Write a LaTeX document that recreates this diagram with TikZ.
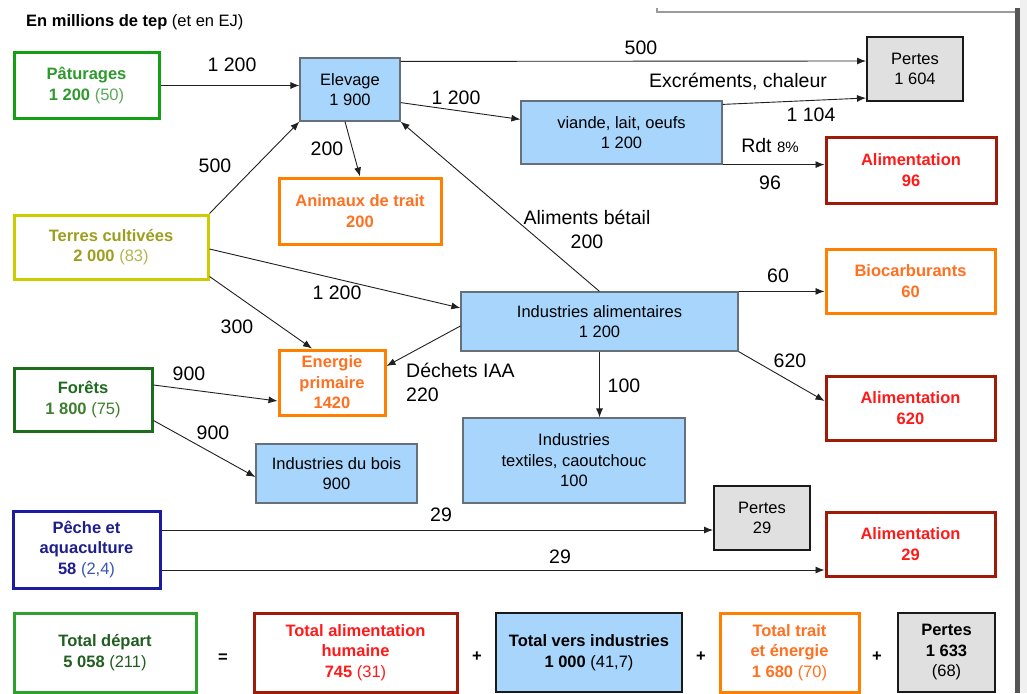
\documentclass[tikz,border=0pt]{standalone}
\usepackage{fontspec}
\setmainfont{Liberation Sans}
\usetikzlibrary{arrows.meta}

\definecolor{cblue}{HTML}{A8D5FB}
\definecolor{cblueb}{HTML}{66707A}
\definecolor{cgray}{HTML}{E0E0E0}
\definecolor{cgrayb}{HTML}{1A1A1A}
\definecolor{cgreen}{HTML}{14A014}
\definecolor{cgreent}{HTML}{2E9A2E}
\definecolor{cgreenp}{HTML}{5AAA5A}
\definecolor{cforest}{HTML}{1C6E1C}
\definecolor{cforestt}{HTML}{1E6A1E}
\definecolor{cforestp}{HTML}{3E7E2E}
\definecolor{ctot}{HTML}{2DA02D}
\definecolor{ctott}{HTML}{215E21}
\definecolor{cterre}{HTML}{CCCC00}
\definecolor{cterret}{HTML}{9E9E1E}
\definecolor{cterrep}{HTML}{B5B550}
\definecolor{corange}{HTML}{FF8000}
\definecolor{coranget}{HTML}{FF7020}
\definecolor{cdred}{HTML}{A01A0A}
\definecolor{credt}{HTML}{FF1A1A}
\definecolor{cnavy}{HTML}{1C1CA0}
\definecolor{cnavyt}{HTML}{1E1E8C}
\definecolor{cnavyp}{HTML}{3A55B5}
\definecolor{cline}{HTML}{202020}
\definecolor{cbar}{HTML}{555555}
\definecolor{cframe}{HTML}{9A9A9A}
\definecolor{cstrip}{HTML}{F0F0F0}

\newcommand\boxfont{\fontsize{16.5}{20.5}\selectfont}
\newcommand\lblfont{\fontsize{19.5}{24}\selectfont}
\newcommand\smallfnt{\fontsize{15}{18}\selectfont}

\newcommand\mybox[7]{%
  \pgfmathsetmacro\bw{#4-#2}\pgfmathsetmacro\bh{#5-#3}%
  \node[#6, minimum width=\bw pt, minimum height=\bh pt] (#1) at ({(#2+#4)/2},{(#3+#5)/2}) {#7};}

\tikzset{
  box/.style={rectangle, inner sep=0pt, align=center, font=\boxfont},
  bluebox/.style={box, fill=cblue, draw=cblueb, line width=1.2pt},
  graybox/.style={box, fill=cgray, draw=cgrayb, line width=2pt},
  greenbox/.style={box, fill=white, draw=cgreen, line width=3pt, text=cgreent, font=\boxfont\bfseries},
  forestbox/.style={box, fill=white, draw=cforest, line width=3pt, text=cforestt, font=\boxfont\bfseries},
  totbox/.style={box, fill=white, draw=ctot, line width=3pt, text=ctott, font=\boxfont\bfseries},
  terrebox/.style={box, fill=white, draw=cterre, line width=3pt, text=cterret, font=\boxfont\bfseries},
  orangebox/.style={box, fill=white, draw=corange, line width=3pt, text=coranget, font=\boxfont\bfseries},
  redbox/.style={box, fill=white, draw=cdred, line width=3pt, text=credt, font=\boxfont\bfseries},
  navybox/.style={box, fill=white, draw=cnavy, line width=3pt, text=cnavyt, font=\boxfont\bfseries},
  flow/.style={draw=cline, line width=0.9pt, -{Latex[length=9pt,width=7pt]}},
  lbl/.style={font=\lblfont, inner sep=0pt, text=black},
  opsign/.style={font=\boxfont\bfseries, inner sep=0pt, text=black},
}

\begin{document}
\begin{tikzpicture}[x=1pt,y=-1pt]
\useasboundingbox (0,0) rectangle (1027,693);
\fill[white] (0,0) rectangle (1027,693);
\fill[cstrip] (1020,0) rectangle (1027,693);
\draw[cframe, line width=1.5pt] (657,8) -- (657,12) -- (1016,12);
\fill[cbar] (1015,8) rectangle (1020,693);

% title
\node[anchor=base west, font=\boxfont, inner sep=0pt] (title) at (26,27) {\bfseries En millions de tep \mdseries(et en EJ)};

% boxes
\mybox{past}{14}{53}{159}{118}{greenbox}{Pâturages\\1 200 {\mdseries\color{cgreenp}(50)}}
\mybox{elev}{300}{58}{400}{121}{bluebox}{Elevage\\1 900}
\mybox{pertesA}{867}{37}{963}{101}{graybox}{Pertes\\1 604}
\mybox{viande}{521}{101}{722}{164}{bluebox}{viande, lait, oeufs\\1 200}
\mybox{alimA}{826}{137}{996}{203}{redbox}{Alimentation\\96}
\mybox{trait}{279}{178}{441}{244}{orangebox}{Animaux de trait\\200}
\mybox{terres}{14}{215}{208}{279}{terrebox}{Terres cultivées\\2 000 {\mdseries\color{cterrep}(83)}}
\mybox{ia}{461}{292}{738}{351}{bluebox}{Industries alimentaires\\1 200}
\mybox{bio}{826}{249}{995}{313}{orangebox}{Biocarburants\\60}
\mybox{alimB}{826}{376}{995}{440}{redbox}{Alimentation\\620}
\mybox{energie}{279}{350}{385}{415}{orangebox}{Energie\\primaire\\1420}
\mybox{forets}{14}{368}{152}{431}{forestbox}{Forêts\\{\color{cforestp}1 800 {\mdseries(75)}}}
\mybox{bois}{256}{444}{417}{503}{bluebox}{Industries du bois\\900}
\mybox{textile}{463}{418}{685}{503}{bluebox}{Industries\\textiles, caoutchouc\\100}
\mybox{pertesB}{714}{486}{810}{550}{graybox}{Pertes\\29}
\mybox{alimC}{826}{512}{995}{576}{redbox}{Alimentation\\29}
\mybox{peche}{13}{511}{160}{588}{navybox}{Pêche et\\aquaculture\\58 {\mdseries\color{cnavyp}(2,4)}}

% totals row
\mybox{tdep}{14}{613}{196}{692}{totbox}{Total départ\\5 058 {\mdseries(211)}}
\mybox{talim}{254}{613}{457}{692}{redbox}{Total alimentation\\humaine\\745 {\mdseries(31)}}
\mybox{tind}{496}{613}{682}{692}{bluebox, draw=cgrayb, line width=1.5pt, font=\boxfont\bfseries}{Total vers industries\\1 000 {\mdseries(41,7)}}
\mybox{tener}{720}{613}{859}{692}{orangebox}{Total trait\\et énergie\\1 680 {\mdseries(70)}}
\mybox{tpert}{898}{613}{995}{692}{graybox, font=\boxfont\bfseries}{Pertes\\1 633\\{\mdseries(68)}}
\node[opsign] (eq) at (223,658) {=};
\node[opsign] (plus1) at (477,657) {+};
\node[opsign] (plus2) at (701,657) {+};
\node[opsign] (plus3) at (877,657) {+};

% connectors
\draw[flow] (past.east) -- (past.east -| elev.west);
\draw[flow] ([yshift=-4pt]elev.north east) -- ([yshift=-25pt]pertesA.north west);
\draw[flow] ([yshift=19pt]elev.south east) -- ([yshift=-19pt]viande.north west);
\draw[flow] ([yshift=-4pt]viande.north east) -- ([yshift=4pt]pertesA.south west);
\draw[flow] (viande.south east) -- (viande.south east -| alimA.west);
\draw[flow] ([xshift=-5pt]elev.south) -- (trait.north);
\draw[flow] (terres.north east) -- (elev.south west);
\draw[flow] (ia.north) -- (elev.south east);
\draw[flow] ([yshift=-2pt]terres.east) -- ([yshift=13.5pt]ia.west);
\draw[flow] ([yshift=4pt]terres.south east) -- ([xshift=-20pt]energie.north);
\draw[flow] ([yshift=-4.5pt]ia.west) -- ([yshift=16.5pt]energie.east);
\draw[flow] ([yshift=14.5pt]forets.east) -- ([yshift=-18.5pt]energie.west);
\draw[flow] ([yshift=12pt]forets.south east) -- ([yshift=-3.5pt]bois.west);
\draw[flow] (ia.north east) -- (ia.north east -| bio.west);
\draw[flow] (ia.south east) -- ([yshift=7pt]alimB.west);
\draw[flow] (ia.south) -- (ia.south |- textile.north);
\draw[flow] ([yshift=19.5pt]peche.east) -- ([yshift=19.5pt]peche.east -| pertesB.west);
\draw[flow] ([yshift=-20.5pt]peche.east) -- ([yshift=-20.5pt]peche.east -| alimC.west);

% labels
\node[lbl] (l1) at (232,65) {1 200};
\node[lbl] (l2) at (641,48) {500};
\node[lbl] (l3) at (456,98) {1 200};
\node[lbl] (l4) at (738,82) {Excréments, chaleur};
\node[lbl] (l5) at (811,115) {1 104};
\node[lbl] (l6) at (770,146) {Rdt {\smallfnt 8\%}};
\node[lbl] (l7) at (770,183) {96};
\node[lbl] (l8) at (327,149) {200};
\node[lbl] (l9) at (215,166) {500};
\node[lbl, align=center] (l10) at (587,229) {Aliments bétail\\200};
\node[lbl] (l11) at (337,293) {1 200};
\node[lbl] (l12) at (237,327) {300};
\node[lbl, align=left, anchor=west] (l13) at (406,382) {Déchets IAA\\220};
\node[lbl] (l14) at (189,374) {900};
\node[lbl] (l15) at (213,433) {900};
\node[lbl] (l16) at (778,276) {60};
\node[lbl] (l17) at (790,361) {620};
\node[lbl] (l18) at (624,386) {100};
\node[lbl] (l19) at (441,515) {29};
\node[lbl] (l20) at (560,557) {29};
\end{tikzpicture}
\end{document}
